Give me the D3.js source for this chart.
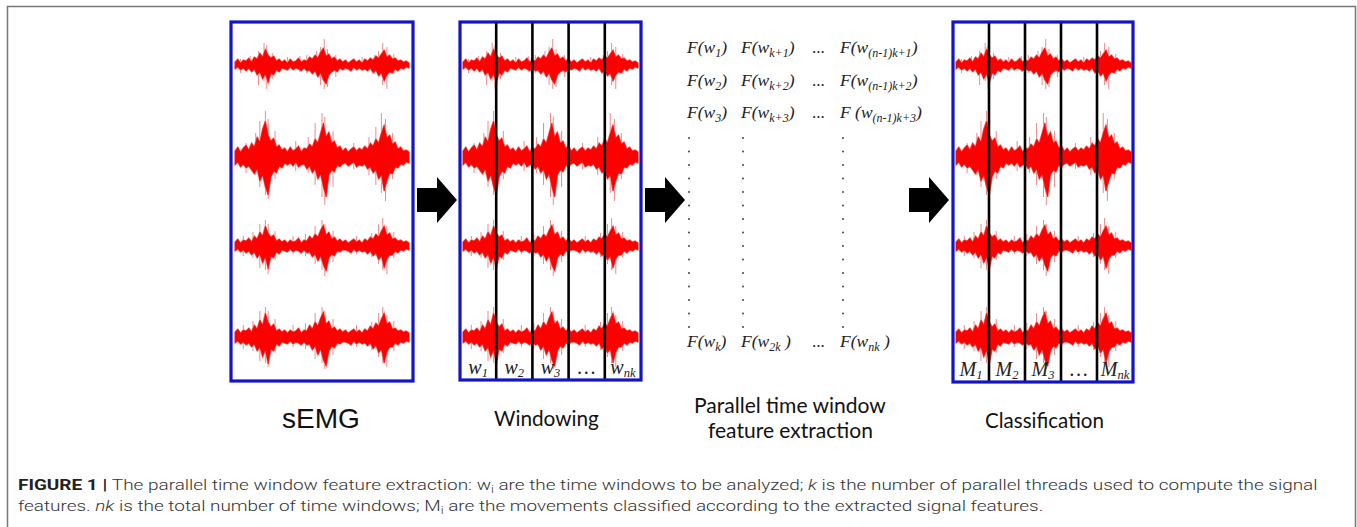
<!DOCTYPE html>
<html><head><meta charset="utf-8">
<script src="https://cdn.jsdelivr.net/npm/d3@7"></script>
<style>body{margin:0;background:#fff}svg{display:block}</style>
</head><body>
<svg id="c" width="1357" height="527"></svg>
<script>
// ---------- DATA (signal envelopes, px half-heights; 64 samples per row) ----------
const row1Up   = [3,6,2,5,4,7,3,8,6,12,8,16,10,7,9,4,6,3,5,2,6,3,4,7,3,5,4,8,6,10,7,13,17,9,11,6,8,4,6,3,5,2,4,6,3,5,2,6,4,7,5,9,7,11,15,8,10,6,7,4,5,3,4,2];
const row1Down = [4,2,5,3,6,3,7,4,10,7,14,9,18,8,10,5,7,3,4,5,2,5,3,4,6,3,6,5,9,6,12,8,15,19,10,7,5,7,3,5,3,4,6,2,5,3,5,4,6,3,8,5,11,8,16,10,7,8,4,6,3,4,2,3];
const row2Up   = [6,10,5,9,12,7,14,10,20,15,28,36,22,16,19,10,12,7,9,5,10,6,8,11,5,9,8,13,10,18,14,24,34,20,25,14,16,9,11,6,9,5,8,10,6,9,7,11,8,14,11,18,14,24,32,19,22,13,15,8,10,6,7,5];
const row2Down = [8,5,10,7,11,9,13,17,12,24,18,30,38,20,14,16,9,11,6,8,6,9,5,10,8,7,12,9,16,12,22,17,30,40,18,13,15,8,10,7,6,9,7,5,10,8,9,7,12,10,16,13,22,18,34,24,16,17,10,11,7,8,5,6];
const row3Up   = [4,7,3,6,5,8,4,10,7,14,10,20,13,9,11,5,7,4,6,3,6,4,5,8,3,6,5,10,7,12,9,16,21,11,14,7,9,5,7,4,6,3,5,7,4,6,3,7,5,9,7,12,9,15,20,11,13,7,8,5,6,4,5,3];
const row3Down = [5,3,6,4,7,5,9,6,12,8,17,11,23,10,12,6,8,4,5,6,3,6,4,5,7,4,7,6,11,8,15,10,19,25,12,8,10,5,6,4,4,5,7,3,6,4,6,5,8,5,10,7,14,10,22,13,9,9,5,7,4,5,3,4];
const row4Up   = [5,8,4,7,6,9,5,12,8,17,12,24,15,10,13,6,8,5,7,4,7,5,6,9,4,7,6,12,8,15,11,19,25,13,16,8,10,6,8,5,7,4,6,8,5,7,4,8,6,11,8,14,11,18,24,13,15,8,9,6,7,5,6,4];
const row4Down = [6,4,7,5,8,6,10,7,14,10,20,13,27,12,14,7,9,5,6,7,4,7,5,6,8,5,8,7,13,9,18,12,23,29,14,9,11,6,7,5,5,6,8,4,7,5,7,6,9,6,12,8,16,12,26,15,10,10,6,8,5,6,4,5];
// faint spikes: [sample index, up, down]
const row1Spikes = [[2,6,8],[5.5,9,5],[8.5,14,20],[10.5,22,16],[11.5,20,24],[13.5,12,14],[19,8,6],[23.5,9,7],[26,10,8],[29.5,14,10],[31,18,20],[32.3,26,24],[33.5,16,22],[36.5,10,12],[46,8,6],[50.5,10,9],[52,14,12],[53.5,22,20],[55,18,24],[57.5,11,9]];
const row2Spikes = [[4,14,16],[7.5,24,18],[9,36,30],[11,46,38],[12,38,42],[14.5,26,22],[22,16,14],[26.5,20,16],[29,34,28],[31.5,44,40],[32.5,40,48],[35.5,26,30],[43,14,12],[48.5,20,18],[51,30,28],[53,44,36],[54.5,38,44],[57,24,22]];
const row3Spikes = [[3,10,10],[6.5,14,12],[9,22,22],[11,26,24],[12,22,28],[14.5,15,14],[21,10,8],[25.5,12,10],[29,20,18],[31.5,26,24],[32.5,22,30],[35.5,15,16],[44,10,8],[49.5,13,11],[52,22,18],[53.5,28,24],[55,20,28],[57.5,14,12]];
const row4Spikes = [[3,12,12],[6.5,16,14],[9,26,24],[11,30,26],[12,26,30],[14.5,18,16],[21,12,10],[25.5,14,12],[29,24,22],[31.5,30,26],[32.5,26,32],[35.5,18,18],[44,12,10],[49.5,15,13],[52,24,20],[53.5,30,26],[55,22,30],[57.5,16,14]];

const panelTitles = ["sEMG", "Windowing", "Classification"];
const windowLabels = [["w","1"],["w","2"],["w","3"],["…",""],["w","nk"]];
const classLabels  = [["M","1"],["M","2"],["M","3"],["…",""],["M","nk"]];

const featureCol1Sub = ["1","2","3","k"];
const featureCol2Sub = ["k+1","k+2","k+3","2k"];
const featureCol2Post = [")",")",")"," )"];
const featureCol4Pre = ["F(w","F(w","F (w","F(w"];
const featureCol4Sub = ["(n-1)k+1","(n-1)k+2","(n-1)k+3","nk"];
const featureCol4Post = [")",")",")"," )"];
const featureTitle = ["Parallel time window", "feature extraction"];

// ---------- LAYOUT ----------
const svg = d3.select("#c");
const ups = [row1Up,row2Up,row3Up,row4Up];
const downs = [row1Down,row2Down,row3Down,row4Down];
const spikes = [row1Spikes,row2Spikes,row3Spikes,row4Spikes];
const rowCenters = [65,157,246,337];

svg.append("rect").attr("x",7.5).attr("y",6.5).attr("width",1348).attr("height",600)
  .attr("fill","none").attr("stroke","#777").attr("stroke-width",1.5);

const panels = [
  {x0:231,x1:413,y0:22,y1:381,sx0:235,sx1:409,labels:null},
  {x0:460,x1:641,y0:22,y1:380,sx0:463,sx1:638,labels:windowLabels},
  {x0:953,x1:1133,y0:22,y1:382,sx0:956,sx1:1131,labels:classLabels}
];

const serif = "'Liberation Serif','Times New Roman',serif";

panels.forEach(p => {
  const g = svg.append("g");
  g.append("rect").attr("x",p.x0).attr("y",p.y0).attr("width",p.x1-p.x0).attr("height",p.y1-p.y0).attr("fill","#fff");
  const x = d3.scaleLinear().domain([0,63]).range([p.sx0,p.sx1]);
  ups.forEach((up,r) => {
    const cy = rowCenters[r];
    const y = d3.scaleLinear().domain([-50,50]).range([cy+50,cy-50]);
    const data = up.map((u,i)=>({u, d:downs[r][i]}));
    const area = d3.area().x((d,i)=>x(i)).y0(d=>y(-d.d)).y1(d=>y(d.u));
    g.selectAll(null).data(spikes[r]).join("line")
      .attr("x1",d=>x(d[0])).attr("x2",d=>x(d[0]))
      .attr("y1",d=>y(d[1])).attr("y2",d=>y(-d[2]))
      .attr("stroke","#f08a8a").attr("stroke-width",1);
    g.append("path").datum(data).attr("d",area)
      .attr("fill","none").attr("stroke","#f4a8a8").attr("stroke-width",1.6);
    g.append("path").datum(data).attr("d",area)
      .attr("fill","#ff0000").attr("stroke","#ff0000").attr("stroke-width",0.5);
  });
  if (p.labels) {
    const band = d3.scaleBand().domain(d3.range(p.labels.length)).range([p.x0,p.x1]);
    g.selectAll(null).data(d3.range(1,p.labels.length)).join("line")
      .attr("x1",i=>band(i)).attr("x2",i=>band(i)).attr("y1",p.y0).attr("y2",p.y1)
      .attr("stroke","#000").attr("stroke-width",2.6);
    const t = g.selectAll(null).data(p.labels).join("text")
      .attr("x",(d,i)=>band(i)+band.bandwidth()/2).attr("y",p.y1-6)
      .attr("text-anchor","middle").attr("font-family",serif).attr("font-style","italic")
      .attr("font-size",20).attr("fill","#222");
    t.append("tspan").text(d=>d[0]);
    t.append("tspan").attr("font-size",12.5).attr("dy",3).text(d=>d[1]);
  }
  g.append("rect").attr("x",p.x0).attr("y",p.y0).attr("width",p.x1-p.x0).attr("height",p.y1-p.y0)
    .attr("fill","none").attr("stroke","#1414c4").attr("stroke-width",3.2);
});

// arrows
[417,645,909].forEach(x0 => {
  const cy = 200;
  svg.append("path").attr("d",`M${x0},${cy-12}L${x0+20},${cy-12}L${x0+20},${cy-23}L${x0+40},${cy}L${x0+20},${cy+23}L${x0+20},${cy+12}L${x0},${cy+12}Z`)
    .attr("fill","#000");
});

// feature matrix
const rowY = [53,86,118,347];
const colX = [687,741,812,840];
function cell(x,y,pre,sub,post){
  const t = svg.append("text").attr("x",x).attr("y",y).attr("font-family",serif)
    .attr("font-style","italic").attr("font-size",17.5).attr("fill","#222");
  t.append("tspan").text(pre);
  t.append("tspan").attr("font-size",12).attr("dy",4).text(sub);
  t.append("tspan").attr("dy",-4).text(post);
}
rowY.forEach((y,i) => {
  cell(colX[0],y,"F(w",featureCol1Sub[i],")");
  cell(colX[1],y,"F(w",featureCol2Sub[i],featureCol2Post[i]);
  svg.append("text").attr("x",colX[2]).attr("y",y).attr("font-family",serif).attr("font-size",17).attr("fill","#222").text("...");
  cell(colX[3],y,featureCol4Pre[i],featureCol4Sub[i],featureCol4Post[i]);
});
const dotYs = d3.range(15).map(i=>138+13.5*i);
[689,743,843].forEach(x => {
  svg.selectAll(null).data(dotYs).join("circle").attr("cx",x).attr("cy",d=>d).attr("r",0.9).attr("fill","#333");
});

// titles
function fit(sel, w){
  const n = sel.node(); const L = n.getComputedTextLength();
  const x = +sel.attr("x"), y = +sel.attr("y");
  const s = w / L;
  sel.attr("x",0).attr("y",0).attr("transform",`translate(${x},${y}) scale(${s},1)`);
}
const sans2 = "Lato,'Open Sans',sans-serif";
fit(svg.append("text").attr("x",282).attr("y",428).attr("font-family","'Liberation Sans',Arial,sans-serif").attr("font-size",28).attr("fill","#111").text(panelTitles[0]),78);
fit(svg.append("text").attr("x",494).attr("y",426).attr("font-family",sans2).attr("font-size",21).attr("fill","#111").text(panelTitles[1]),105);
fit(svg.append("text").attr("x",985).attr("y",428).attr("font-family",sans2).attr("font-size",21).attr("fill","#111").text(panelTitles[2]),119);
fit(svg.append("text").attr("x",694).attr("y",413).attr("font-family",sans2).attr("font-size",21).attr("fill","#111").text(featureTitle[0]),192);
fit(svg.append("text").attr("x",708).attr("y",438).attr("font-family",sans2).attr("font-size",21).attr("fill","#111").text(featureTitle[1]),165);

// caption
const capFont = "Roboto,'Liberation Sans',Arial,sans-serif";
function capLine(y, parts){
  const t = svg.append("text").attr("x",18).attr("y",y).attr("font-family",capFont).attr("font-size",15.5)
    .attr("font-weight",300).attr("fill","#333");
  parts.forEach(p => {
    const s = t.append("tspan").text(p.t);
    if (p.b) s.attr("font-weight","bold").attr("fill","#222");
    if (p.i) s.attr("font-style","italic");
    if (p.sub) s.attr("font-size",10.5).attr("dy",3);
    if (p.up) s.attr("dy",-3);
  });
  return t;
}
const l1 = capLine(490,[{t:"FIGURE 1 | ",b:1},{t:"The parallel time window feature extraction: w"},{t:"i",sub:1},{t:" are the time windows to be analyzed; ",up:1},{t:"k",i:1},{t:" is the number of parallel threads used to compute the signal"}]);
const l2 = capLine(511,[{t:"features. "},{t:"nk",i:1},{t:" is the total number of time windows; M"},{t:"i",sub:1},{t:" are the movements classified according to the extracted signal features.",up:1}]);
const s1 = 1301 / l1.node().getComputedTextLength();
l1.attr("x",0).attr("y",0).attr("transform",`translate(18,490) scale(${s1},1)`);
l2.attr("x",0).attr("y",0).attr("transform",`translate(18,511) scale(${s1},1)`);
</script>
</body></html>
